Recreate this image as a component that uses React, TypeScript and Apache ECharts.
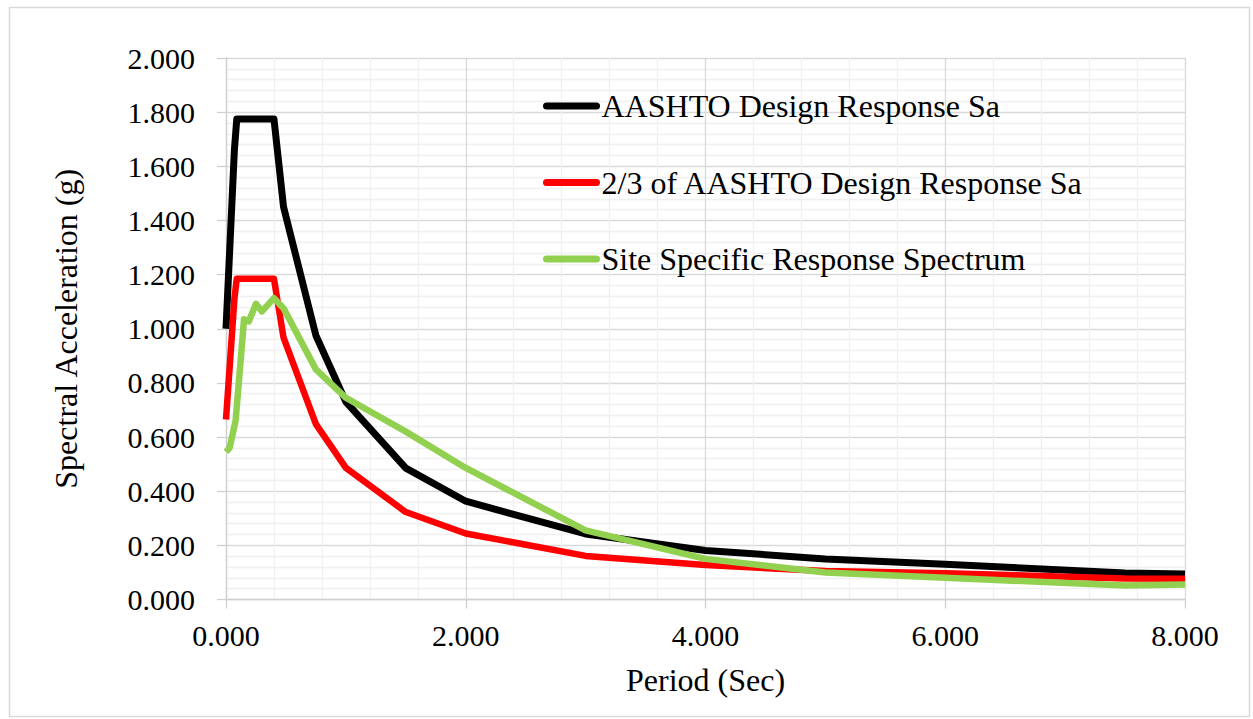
import React, { useEffect, useRef } from "react";
import * as echarts from "echarts";

const seriesNames = [
  "AASHTO Design Response Sa",
  "2/3 of AASHTO Design Response Sa",
  "Site Specific Response Spectrum",
];

const aashtoT = [0, 0.07, 0.09, 0.4, 0.48, 0.75, 1, 1.5, 2, 3, 4, 5, 6, 7.5, 8];
const aashtoSa = [1.0, 1.66, 1.775, 1.775, 1.45, 0.975, 0.73, 0.485, 0.363, 0.242, 0.181, 0.15, 0.13, 0.098, 0.094];

const twoThirdsT = [0, 0.07, 0.09, 0.4, 0.48, 0.75, 1, 1.5, 2, 3, 4, 5, 6, 7.5, 8];
const twoThirdsSa = [0.665, 1.11, 1.185, 1.185, 0.967, 0.648, 0.486, 0.323, 0.244, 0.161, 0.127, 0.105, 0.097, 0.078, 0.077];

const siteT = [0, 0.03, 0.08, 0.12, 0.15, 0.19, 0.25, 0.3, 0.4, 0.48, 0.75, 1, 1.5, 2, 3, 4, 5, 6, 7.5, 8];
const siteSa = [0.545, 0.56, 0.66, 0.87, 1.035, 1.027, 1.092, 1.064, 1.113, 1.076, 0.85, 0.745, 0.62, 0.486, 0.255, 0.15, 0.1, 0.08, 0.052, 0.055];

const colors = ["#000000", "#ff0000", "#92d050"];

const xTicks = { min: 0, max: 8, interval: 2 };
const yTicks = { min: 0, max: 2, interval: 0.2 };

const FONT = "'Liberation Serif', 'Times New Roman', serif";

function pairs(xs: number[], ys: number[]) {
  return xs.map((x, i) => [x, ys[i]]);
}

export default function App() {
  const ref = useRef<HTMLDivElement>(null);
  useEffect(() => {
    if (!ref.current) return;
    const chart = echarts.init(ref.current, undefined, { renderer: "svg" });
    const data = [pairs(aashtoT, aashtoSa), pairs(twoThirdsT, twoThirdsSa), pairs(siteT, siteSa)];
    const axisGray = "#d0d0d0";
    chart.setOption({
      animation: false,
      backgroundColor: "#ffffff",
      textStyle: { fontFamily: FONT },
      grid: {
        left: 226,
        top: 58,
        right: 68,
        bottom: 119.5,
        containLabel: false,
        outerBoundsMode: "none",
      },
      graphic: [
        {
          type: "rect",
          left: 7,
          top: 5,
          shape: { x: 0, y: 0, width: 1240, height: 709 },
          style: { fill: "none", stroke: "#d9d9d9", lineWidth: 1.5 },
          silent: true,
        },
      ],
      legend: {
        orient: "vertical",
        left: 543,
        top: 88,
        padding: 0,
        itemWidth: 50,
        itemHeight: 14,
        itemGap: 40.5,
        itemStyle: { color: "rgba(0,0,0,0)", borderWidth: 0, opacity: 0 },
        lineStyle: { width: 7, cap: "round" },
        textStyle: { fontFamily: FONT, fontSize: 32, color: "#000", lineHeight: 36 },
        data: seriesNames,
      },
      xAxis: {
        type: "value",
        min: xTicks.min,
        max: xTicks.max,
        interval: xTicks.interval,
        name: "Period (Sec)",
        nameLocation: "middle",
        nameGap: 64,
        nameTextStyle: { fontFamily: FONT, fontSize: 32, color: "#000" },
        axisLine: { show: true, lineStyle: { color: axisGray, width: 1.3 } },
        axisTick: { show: true, length: 9, lineStyle: { color: axisGray, width: 1.3 } },
        axisLabel: {
          fontFamily: FONT,
          fontSize: 30,
          color: "#000",
          margin: 21,
          formatter: (v: number) => v.toFixed(3),
        },
        splitLine: { show: true, lineStyle: { color: "#d9d9d9", width: 1.3 } },
        minorTick: { show: false, splitNumber: 5 },
        minorSplitLine: { show: true, lineStyle: { color: "#f0f0f0", width: 1.3 } },
      },
      yAxis: {
        type: "value",
        min: yTicks.min,
        max: yTicks.max,
        interval: yTicks.interval,
        name: "Spectral Acceleration (g)",
        nameLocation: "middle",
        nameGap: 144,
        nameTextStyle: { fontFamily: FONT, fontSize: 32, color: "#000" },
        axisLine: { show: true, lineStyle: { color: axisGray, width: 1.3 } },
        axisTick: { show: true, length: 9, lineStyle: { color: axisGray, width: 1.3 } },
        axisLabel: {
          fontFamily: FONT,
          fontSize: 30,
          color: "#000",
          margin: 31,
          formatter: (v: number) => v.toFixed(3),
        },
        splitLine: { show: true, lineStyle: { color: "#d9d9d9", width: 1.3 } },
        minorTick: { show: false, splitNumber: 5 },
        minorSplitLine: { show: true, lineStyle: { color: "#f0f0f0", width: 1.3 } },
      },
      series: data.map((d, i) => ({
        name: seriesNames[i],
        type: "line",
        data: d,
        showSymbol: false,
        symbol: "none",
        color: colors[i],
        lineStyle: { color: colors[i], width: i === 0 ? 7 : 6.5, join: "round", cap: "butt" },
        z: 2 + i,
      })),
    });
    return () => chart.dispose();
  }, []);
  return (
    <div
      ref={ref}
      style={{ position: "fixed", left: 0, top: 0, width: 1253, height: 719 }}
    />
  );
}
